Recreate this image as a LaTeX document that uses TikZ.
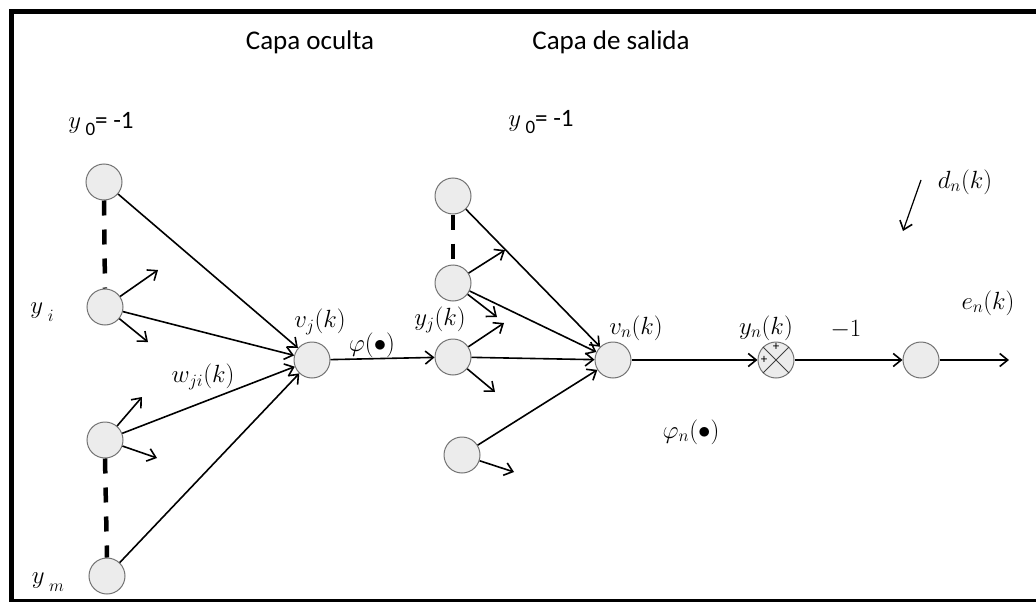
\documentclass[tikz,border=0pt]{standalone}
\usepackage{fontspec}
\setmainfont{Carlito}
\usetikzlibrary{arrows.meta}
\begin{document}
\begin{tikzpicture}[x=1pt,y=-1pt,
  neuron/.style={circle,draw=black!55,line width=1pt,fill=gray!15,minimum size=36pt,inner sep=0pt},
  conn/.style={line width=1.6pt,-{Straight Barb[length=8pt,width=13pt,line width=1.6pt]}},
  dashline/.style={line width=4.5pt,dash pattern=on 15pt off 14pt},
  lbl/.style={font=\fontsize{27}{30}\selectfont,inner sep=0pt},
  ttl/.style={font=\fontsize{27}{30}\selectfont,inner sep=0pt},
  pm/.style={font=\fontsize{13}{14}\selectfont,inner sep=0pt}]
\useasboundingbox (0,0) rectangle (1036,602);
% frame
\draw[line width=5pt] (11,602) -- (11,11.5) -- (1036,11.5);
\draw[line width=3pt] (11,600.5) -- (1036,600.5);
% titles
\node[ttl] (t1) at (310,42) {Capa oculta};
\node[ttl] (t2) at (611,42) {Capa de salida};
% neurons
\node[neuron] (a0) at (104,182) {};
\node[neuron] (ai) at (105,307) {};
\node[neuron] (a3) at (105,440) {};
\node[neuron] (am) at (107,576) {};
\node[neuron] (vj) at (312,360) {};
\node[neuron] (b0) at (453,196) {};
\node[neuron] (b1) at (453,283) {};
\node[neuron] (yj) at (453,357) {};
\node[neuron] (b3) at (462,455) {};
\node[neuron] (vn) at (613,360) {};
\node[neuron] (sum) at (776,360) {};
\node[neuron] (en) at (921,360) {};
% summing junction marks
\draw[line width=1pt,black!75] (sum.north west) -- (sum.south east) (sum.north east) -- (sum.south west);
\node[pm] (p1) at (776,347) {+};
\node[pm] (p2) at (764,360) {+};
% dashed links
\draw[dashline] (a0.south) -- (ai.north);
\draw[dashline] (a3.south) -- (am.north);
\draw[dashline] (b0.south) -- (b1.north);
% free arrow ends
\coordinate (ai1) at (158,270);
\coordinate (ai2) at (148,342);
\coordinate (a31) at (142,397);
\coordinate (a32) at (157,458);
\coordinate (b11) at (505,250);
\coordinate (b12) at (497,317);
\coordinate (yj1) at (504,323);
\coordinate (yj2) at (495,392);
\coordinate (b31) at (514,472);
\coordinate (out) at (1009,360);
\coordinate (dA) at (921,180);
\coordinate (dB) at (903,231);
% hidden layer connections
\draw[conn] (a0) -- (vj);
\draw[conn] (ai) -- (vj);
\draw[conn] (a3) -- (vj);
\draw[conn] (am) -- (vj);
\draw[conn] (ai) -- (ai1);
\draw[conn] (ai) -- (ai2);
\draw[conn] (a3) -- (a31);
\draw[conn] (a3) -- (a32);
\draw[conn] (vj) -- (yj);
% output layer connections
\draw[conn] (b0) -- (vn);
\draw[conn] (b1) -- (vn);
\draw[conn] (yj) -- (vn);
\draw[conn] (b3) -- (vn);
\draw[conn] (b1) -- (b11);
\draw[conn] (b1) -- (b12);
\draw[conn] (yj) -- (yj1);
\draw[conn] (yj) -- (yj2);
\draw[conn] (b3) -- (b31);
\draw[conn] (vn) -- (sum);
\draw[conn] (sum) -- (en);
\draw[conn] (en) -- (out);
\draw[conn,line width=1.2pt] (dA) -- (dB);
% labels
\node[lbl] (l0) at (101,124) {$y$\,\raisebox{-7pt}{\fontsize{19}{20}\selectfont 0}\fontsize{25}{28}\selectfont= -1};
\node[lbl] (l0b) at (541,122) {$y$\,\raisebox{-7pt}{\fontsize{19}{20}\selectfont 0}\fontsize{25}{28}\selectfont= -1};
\node[lbl] (lyi) at (42,312) {$y$\,\raisebox{-8pt}{$\scriptstyle i$}};
\node[lbl] (lym) at (48,582) {$y$\,\raisebox{-8pt}{$\scriptstyle m$}};
\node[lbl] (lvj) at (320,322) {$v_j(k)$};
\node[lbl] (lphi) at (372,345) {$\varphi(\bullet)$};
\node[lbl] (lw) at (203,377) {$w_{ji}(k)$};
\node[lbl] (lyj) at (440,320) {$y_j(k)$};
\node[lbl] (lvn) at (636,328) {$v_n(k)$};
\node[lbl] (lyn) at (766,328) {$y_n(k)$};
\node[lbl] (lm1) at (846,330) {$-1$};
\node[lbl] (lphin) at (691,432) {$\varphi_n(\bullet)$};
\node[lbl] (ldn) at (965,182) {$d_n(k)$};
\node[lbl] (len) at (988,303) {$e_n(k)$};
\end{tikzpicture}
\end{document}
